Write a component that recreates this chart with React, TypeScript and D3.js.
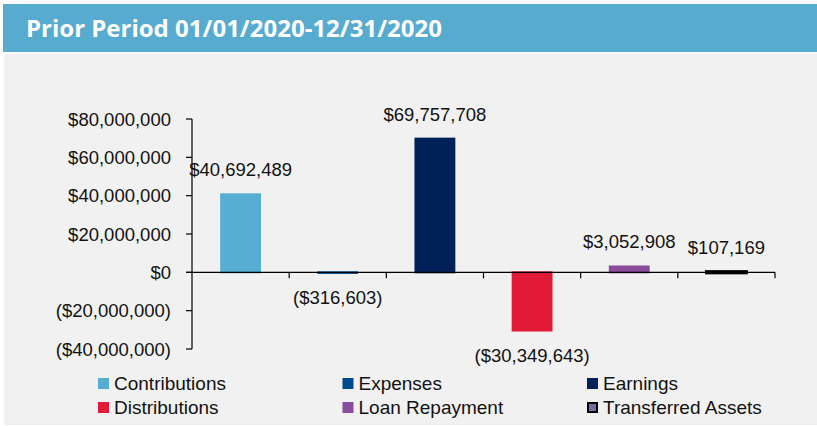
import React, { useEffect, useRef } from 'react';
import * as d3 from 'd3';

const categories = ['Contributions', 'Expenses', 'Earnings', 'Distributions', 'Loan Repayment', 'Transferred Assets'];
const values = [40692489, -316603, 69757708, -30349643, 3052908, 107169];
const colors = ['#57aed3', '#004a8f', '#002157', '#e01a37', '#8a4c9c', '#776c9b'];
const yTicks = [-40000000, -20000000, 0, 20000000, 40000000, 60000000, 80000000];
const title = 'Prior Period 01/01/2020-12/31/2020';

const fmt = (v: number) => {
  const s = '$' + d3.format(',')(Math.abs(v));
  return v < 0 ? `(${s})` : s;
};

const App = () => {
  const svgRef = useRef<SVGSVGElement>(null);

  useEffect(() => {
    const svg = d3.select(svgRef.current);
    svg.selectAll('*').remove();

    const width = 817;
    const font = '"Liberation Sans", Arial, sans-serif';

    // panel background + header
    svg.append('rect').attr('x', 4).attr('y', 54).attr('width', width - 4).attr('height', 371).attr('fill', '#f1f1f1');
    svg.append('rect').attr('x', 3).attr('y', 4).attr('width', width - 3).attr('height', 48).attr('fill', '#57abcf');
    svg.append('text')
      .attr('x', 26).attr('y', 36.7)
      .attr('fill', '#fff')
      .attr('font-family', '"Open Sans", sans-serif')
      .attr('font-weight', 700)
      .attr('font-size', 24)
      .attr('textLength', 416)
      .attr('lengthAdjust', 'spacingAndGlyphs')
      .text(title);

    const x = d3.scaleBand()
      .domain(categories)
      .range([192, 775])
      .paddingInner(0.6)
      .paddingOuter(0.3);

    const y = d3.scaleLinear()
      .domain([-40000000, 80000000])
      .range([349, 119]);

    const step = x.step();
    const left = 192, right = 775;

    // y axis
    const yAxis = svg.append('g').attr('stroke', '#000');
    yAxis.append('line').attr('x1', left).attr('x2', left).attr('y1', y(80000000)).attr('y2', y(-40000000)).attr('stroke-width', 1.2);
    yTicks.forEach(t => {
      yAxis.append('line').attr('x1', left - 6).attr('x2', left).attr('y1', y(t)).attr('y2', y(t)).attr('stroke-width', 1.2);
    });
    svg.append('g').selectAll('text')
      .data(yTicks)
      .join('text')
      .attr('x', 171)
      .attr('y', d => y(d))
      .attr('dy', '0.36em')
      .attr('text-anchor', 'end')
      .attr('font-family', font)
      .attr('font-size', 18.5)
      .attr('fill', '#111')
      .text(d => fmt(d));

    // bars
    svg.append('g')
      .selectAll('rect')
      .data(values)
      .join('rect')
      .attr('x', (d, i) => x(categories[i])!)
      .attr('y', d => y(Math.max(0, d)))
      .attr('width', x.bandwidth())
      .attr('height', d => Math.abs(y(d) - y(0)))
      .attr('fill', (d, i) => colors[i])
      .attr('stroke', (d, i) => (i === 5 ? '#000' : colors[i]))
      .attr('stroke-width', (d, i) => (i === 5 ? 4 : 2));

    // x axis at zero
    const xAxis = svg.append('g').attr('stroke', '#000').attr('stroke-width', 1.2);
    xAxis.append('line').attr('x1', left - 6).attr('x2', right).attr('y1', y(0)).attr('y2', y(0));
    d3.range(1, categories.length + 1).forEach(i => {
      const xx = left + i * step;
      xAxis.append('line').attr('x1', xx).attr('x2', xx).attr('y1', y(0)).attr('y2', y(0) + 6);
    });

    // value labels
    svg.append('g').selectAll('text')
      .data(values)
      .join('text')
      .attr('x', (d, i) => x(categories[i])! + x.bandwidth() / 2)
      .attr('y', d => (d >= 0 ? y(d) - 18 : y(d) + 31))
      .attr('text-anchor', 'middle')
      .attr('font-family', font)
      .attr('font-size', 18.5)
      .attr('fill', '#111')
      .text(d => fmt(d));

    // legend
    const legend = svg.append('g');
    categories.forEach((c, i) => {
      const col = i % 3, row = Math.floor(i / 3);
      const g = legend.append('g').attr('transform', `translate(${98 + col * 244.5},${383.5 + row * 24})`);
      g.append('rect')
        .attr('x', i === 5 ? 1 : 0).attr('y', i === 5 ? -4.5 : -5.5)
        .attr('width', i === 5 ? 9 : 11).attr('height', i === 5 ? 9 : 11)
        .attr('fill', colors[i])
        .attr('stroke', i === 5 ? '#000' : 'none')
        .attr('stroke-width', 2);
      g.append('text')
        .attr('x', 16)
        .attr('y', 0)
        .attr('dy', '0.36em')
        .attr('font-family', font)
        .attr('font-size', 19)
        .attr('fill', '#111')
        .text(c);
    });
  }, []);

  return (
    <svg ref={svgRef} width={817} height={426} style={{ position: 'absolute', left: 0, top: 0, background: '#fff' }}></svg>
  );
};

export default App;
